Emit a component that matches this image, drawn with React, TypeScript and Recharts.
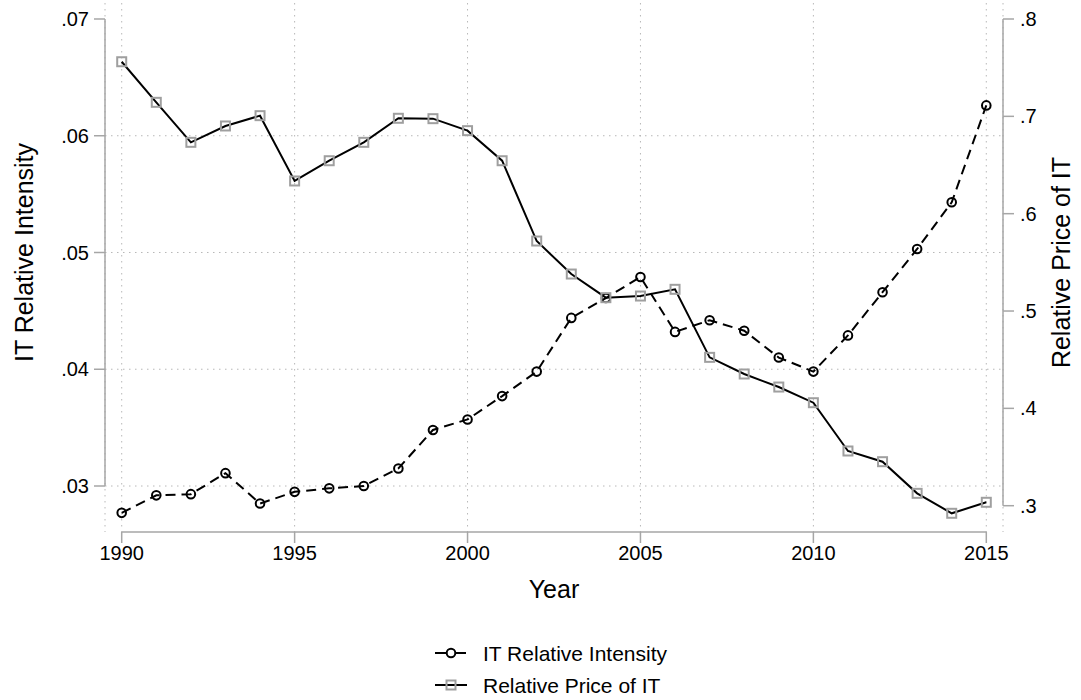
import {
  CartesianGrid,
  Line,
  LineChart,
  ReferenceLine,
  XAxis,
  YAxis,
} from 'recharts'

const years = [
  1990, 1991, 1992, 1993, 1994, 1995, 1996, 1997, 1998, 1999, 2000, 2001, 2002,
  2003, 2004, 2005, 2006, 2007, 2008, 2009, 2010, 2011, 2012, 2013, 2014, 2015,
]

// IT Relative Intensity (left axis)
const intensity = [
  0.0277, 0.0292, 0.0293, 0.0311, 0.0285, 0.0295, 0.0298, 0.03, 0.0315, 0.0348,
  0.0357, 0.0377, 0.0398, 0.0444, 0.0461, 0.0479, 0.0432, 0.0442, 0.0433, 0.041,
  0.0398, 0.0429, 0.0466, 0.0503, 0.0543, 0.0626,
]

// Relative Price of IT (right axis)
const price = [
  0.7561, 0.7144, 0.6733, 0.6901, 0.7007, 0.6336, 0.6544, 0.6733, 0.698, 0.6976,
  0.6853, 0.6544, 0.5719, 0.538, 0.5137, 0.5154, 0.5223, 0.4524, 0.4353, 0.4219,
  0.4058, 0.3562, 0.3452, 0.3127, 0.2922, 0.3035,
]

const xTicks = [1990, 1995, 2000, 2005, 2010, 2015]
const leftTicks = [0.03, 0.04, 0.05, 0.06, 0.07]
const rightTicks = [0.3, 0.4, 0.5, 0.6, 0.7, 0.8]
const gridValues = [0.03, 0.04, 0.05, 0.06]

const data = years.map((year, i) => ({
  year,
  intensity: intensity[i],
  price: price[i],
}))

const X_MIN = 1989.517
const X_MAX = 2015.483
const LEFT_MIN = 0.02606
const LEFT_MAX = 0.07137
const RIGHT_MIN = 0.27298
const RIGHT_MAX = 0.81644

const FONT = '"Liberation Sans", Arial, sans-serif'
const AXIS = '#a6a6a6'
const GRID = '#b8b8b8'
const MARKER_GRAY = '#9f9f9f'

const fmt = (digits: number) => (v: number) => v.toFixed(digits).replace(/^0/, '')

const CircleDot = (props: any) => {
  const { cx, cy, index } = props
  if (cx == null || cy == null) return <g key={`c-${index}`} />
  return (
    <circle
      key={`c-${index}`}
      cx={cx}
      cy={cy}
      r={4.3}
      fill='none'
      stroke='#000'
      strokeWidth={2}
    />
  )
}

const SquareDot = (props: any) => {
  const { cx, cy, index } = props
  if (cx == null || cy == null) return <g key={`s-${index}`} />
  return (
    <rect
      key={`s-${index}`}
      x={cx - 4.5}
      y={cy - 4.5}
      width={9}
      height={9}
      fill='none'
      stroke={MARKER_GRAY}
      strokeWidth={2}
    />
  )
}

export default function App() {
  return (
    <div style={{ position: 'relative', width: 1081, height: 700, fontFamily: FONT }}>
      <style>{'body{margin:0}'}</style>
      <LineChart
        width={1081}
        height={700}
        data={data}
        margin={{ top: 3, right: 0, bottom: 0, left: 0 }}
      >
        <CartesianGrid
          yAxisId='left'
          horizontal={false}
          stroke={GRID}
          strokeDasharray='1.5 4.5'
        />
        {gridValues.map((v) => (
          <ReferenceLine
            key={v}
            yAxisId='left'
            y={v}
            stroke={GRID}
            strokeDasharray='1.5 4.5'
          />
        ))}
        <XAxis
          dataKey='year'
          type='number'
          domain={[X_MIN, X_MAX]}
          allowDataOverflow
          ticks={xTicks}
          axisLine={false}
          tickSize={11}
          tickMargin={3}
          tickLine={{ stroke: AXIS, strokeWidth: 1.5 }}
          tick={{ fill: '#000', fontSize: 20, fontFamily: FONT }}
          height={168}
        />
        <YAxis
          yAxisId='left'
          orientation='left'
          domain={[LEFT_MIN, LEFT_MAX]}
          allowDataOverflow
          ticks={leftTicks}
          tickFormatter={fmt(2)}
          axisLine={false}
          tickSize={11}
          tickMargin={5}
          tickLine={{ stroke: AXIS, strokeWidth: 1.5 }}
          tick={{ fill: '#000', fontSize: 20, fontFamily: FONT }}
          width={105}
        />
        <YAxis
          yAxisId='right'
          orientation='right'
          domain={[RIGHT_MIN, RIGHT_MAX]}
          allowDataOverflow
          ticks={rightTicks}
          tickFormatter={fmt(1)}
          axisLine={false}
          tickSize={11}
          tickMargin={6}
          tickLine={{ stroke: AXIS, strokeWidth: 1.5 }}
          tick={{ fill: '#000', fontSize: 20, fontFamily: FONT }}
          width={78}
        />
        <ReferenceLine
          yAxisId='left'
          ifOverflow='visible'
          segment={[
            { x: X_MIN, y: leftTicks[0] },
            { x: X_MIN, y: leftTicks[leftTicks.length - 1] },
          ]}
          stroke={AXIS}
          strokeWidth={1.5}
        />
        <ReferenceLine
          yAxisId='right'
          ifOverflow='visible'
          segment={[
            { x: X_MAX, y: rightTicks[0] },
            { x: X_MAX, y: rightTicks[rightTicks.length - 1] },
          ]}
          stroke={AXIS}
          strokeWidth={1.5}
        />
        <ReferenceLine
          yAxisId='left'
          ifOverflow='visible'
          segment={[
            { x: xTicks[0], y: LEFT_MIN },
            { x: xTicks[xTicks.length - 1], y: LEFT_MIN },
          ]}
          stroke={AXIS}
          strokeWidth={1.5}
        />
        <Line
          yAxisId='left'
          type='linear'
          dataKey='intensity'
          name='IT Relative Intensity'
          stroke='#000'
          strokeWidth={2}
          strokeDasharray='10 6'
          dot={CircleDot}
          activeDot={false}
          isAnimationActive={false}
        />
        <Line
          yAxisId='right'
          type='linear'
          dataKey='price'
          name='Relative Price of IT'
          stroke='#000'
          strokeWidth={2}
          dot={SquareDot}
          activeDot={false}
          isAnimationActive={false}
        />
      </LineChart>
      <svg
        width={1081}
        height={700}
        style={{ position: 'absolute', left: 0, top: 0, pointerEvents: 'none' }}
        fontFamily={FONT}
      >
        <text
          transform='translate(33, 252.5) rotate(-90)'
          textAnchor='middle'
          fontSize={25}
          fill='#000'
        >
          IT Relative Intensity
        </text>
        <text
          transform='translate(1070, 262.5) rotate(-90)'
          textAnchor='middle'
          fontSize={25}
          fill='#000'
        >
          Relative Price of IT
        </text>
        <text x={554} y={598} textAnchor='middle' fontSize={25} fill='#000'>
          Year
        </text>
        <g>
          <line x1={435} y1={653} x2={446} y2={653} stroke='#000' strokeWidth={2} />
          <line x1={456} y1={653} x2={466} y2={653} stroke='#000' strokeWidth={2} />
          <circle cx={451} cy={653} r={4.3} fill='none' stroke='#000' strokeWidth={2} />
          <text x={483} y={660.5} fontSize={21} fill='#000'>
            IT Relative Intensity
          </text>
        </g>
        <g>
          <line x1={435} y1={685} x2={467} y2={685} stroke='#000' strokeWidth={2} />
          <rect
            x={446.5}
            y={680.5}
            width={9}
            height={9}
            fill='none'
            stroke={MARKER_GRAY}
            strokeWidth={2}
          />
          <text x={483} y={692.5} fontSize={21} fill='#000'>
            Relative Price of IT
          </text>
        </g>
      </svg>
    </div>
  )
}
